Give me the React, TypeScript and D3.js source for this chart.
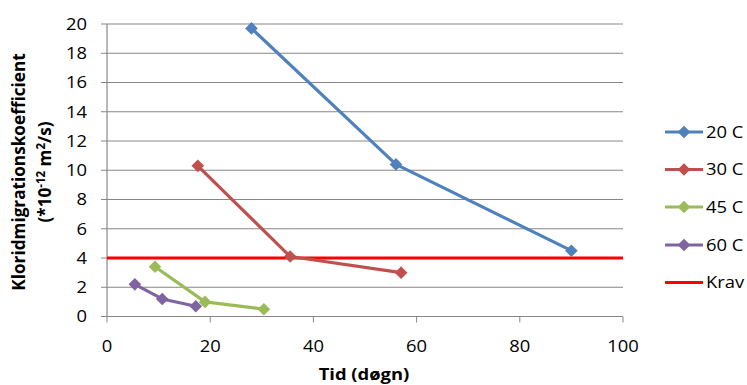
import React from "react";
import * as d3 from "d3";

const xTicks = [0, 20, 40, 60, 80, 100];
const yTicks = [0, 2, 4, 6, 8, 10, 12, 14, 16, 18, 20];

const days20 = [28, 56, 90];
const coef20 = [19.7, 10.4, 4.5];
const days30 = [17.6, 35.5, 57];
const coef30 = [10.3, 4.1, 3.0];
const days45 = [9.3, 19, 30.4];
const coef45 = [3.4, 1.0, 0.5];
const days60 = [5.4, 10.7, 17.2];
const coef60 = [2.2, 1.2, 0.7];
const kravDays = [0, 100];
const kravValue = [4, 4];

const seriesNames = ["20 C", "30 C", "45 C", "60 C"];
const seriesColors = ["#4F81BD", "#C0504D", "#9BBB59", "#8064A2"];
const kravName = "Krav";
const kravColor = "#FF0000";

const W = 747;
const H = 385;
const FONT = "'Open Sans', 'Liberation Sans', sans-serif";
const SX = 1.15; // horizontal widening of label glyphs

type TxtProps = {
  x: number;
  y: number;
  anchor?: "start" | "middle" | "end";
  size?: number;
  weight?: string;
  dy?: string;
  children: React.ReactNode;
};

function Txt({ x, y, anchor = "start", size = 16, weight = "normal", dy, children }: TxtProps) {
  return (
    <text
      transform={`translate(${x},${y}) scale(${SX},1)`}
      textAnchor={anchor}
      fontSize={size}
      fontWeight={weight}
      dy={dy}
      fill="#000"
    >
      {children}
    </text>
  );
}

export default function App() {
  const x = d3.scaleLinear().domain([0, 100]).range([107, 623]);
  const y = d3.scaleLinear().domain([0, 20]).range([316.5, 24]);
  const line = d3
    .line<[number, number]>()
    .x((d) => x(d[0]))
    .y((d) => y(d[1]));

  const series = [
    { days: days20, coef: coef20 },
    { days: days30, coef: coef30 },
    { days: days45, coef: coef45 },
    { days: days60, coef: coef60 },
  ].map((s, i) => ({
    name: seriesNames[i],
    color: seriesColors[i],
    pts: s.days.map((d, j) => [d, s.coef[j]] as [number, number]),
  }));

  const kravPts = kravDays.map((d, i) => [d, kravValue[i]] as [number, number]);
  const diamond = (cx: number, cy: number, r = 6.3) =>
    `M${cx},${cy - r}L${cx + r},${cy}L${cx},${cy + r}L${cx - r},${cy}Z`;

  const legendY = [132, 169.5, 207, 245, 282.5];
  const gridColor = "#878787";

  return (
    <svg
      width={W}
      height={H}
      style={{ position: "absolute", left: 0, top: 0, background: "#fff" }}
      fontFamily={FONT}
    >
      {/* horizontal gridlines */}
      {yTicks.map((t) => (
        <line
          key={"g" + t}
          x1={x(0) - 6}
          x2={x(100)}
          y1={y(t)}
          y2={y(t)}
          stroke={gridColor}
          strokeWidth={1}
        />
      ))}
      {/* axes */}
      <line x1={x(0)} x2={x(0)} y1={y(20)} y2={y(0)} stroke={gridColor} strokeWidth={1.2} />
      <line x1={x(0)} x2={x(100)} y1={y(0)} y2={y(0)} stroke={gridColor} strokeWidth={1.2} />
      {xTicks.map((t) => (
        <line key={"xt" + t} x1={x(t)} x2={x(t)} y1={y(0)} y2={y(0) + 6} stroke={gridColor} strokeWidth={1} />
      ))}
      {yTicks.map((t) => (
        <Txt key={"yl" + t} x={x(0) - 20} y={y(t)} dy="0.36em" anchor="end">
          {t}
        </Txt>
      ))}
      {xTicks.map((t) => (
        <Txt key={"xl" + t} x={x(t)} y={352} anchor="middle">
          {t}
        </Txt>
      ))}

      {/* Krav line */}
      <path d={line(kravPts) || ""} stroke={kravColor} strokeWidth={3} fill="none" />

      {/* series */}
      {series.map((s) => (
        <g key={s.name}>
          <path d={line(s.pts) || ""} stroke={s.color} strokeWidth={3.2} fill="none" strokeLinejoin="round" />
          {s.pts.map((p, j) => (
            <path key={j} d={diamond(x(p[0]), y(p[1]))} fill={s.color} />
          ))}
        </g>
      ))}

      {/* axis titles */}
      <Txt x={364} y={380} anchor="middle" weight="bold">
        Tid (døgn)
      </Txt>
      <g transform="translate(25,172) rotate(-90)">
        <text x={0} y={0} textAnchor="middle" fontSize={17.2} fontWeight="bold" fill="#000">
          Kloridmigrationskoefficient
        </text>
        <text x={0} y={26} textAnchor="middle" fontSize={17.2} fontWeight="bold" fill="#000">
          (*10
          <tspan dy={-6} fontSize={11.5}>-12</tspan>
          <tspan dy={6}> m</tspan>
          <tspan dy={-6} fontSize={11.5}>2</tspan>
          <tspan dy={6}>/s)</tspan>
        </text>
      </g>

      {/* legend */}
      {series.map((s, i) => (
        <g key={"lg" + s.name}>
          <line x1={665} x2={703} y1={legendY[i]} y2={legendY[i]} stroke={s.color} strokeWidth={3.2} />
          <path d={diamond(684, legendY[i])} fill={s.color} />
          <Txt x={706} y={legendY[i]} dy="0.36em">
            {s.name}
          </Txt>
        </g>
      ))}
      <line x1={665} x2={703} y1={legendY[4]} y2={legendY[4]} stroke={kravColor} strokeWidth={3} />
      <Txt x={706} y={legendY[4]} dy="0.36em">
        {kravName}
      </Txt>
    </svg>
  );
}
